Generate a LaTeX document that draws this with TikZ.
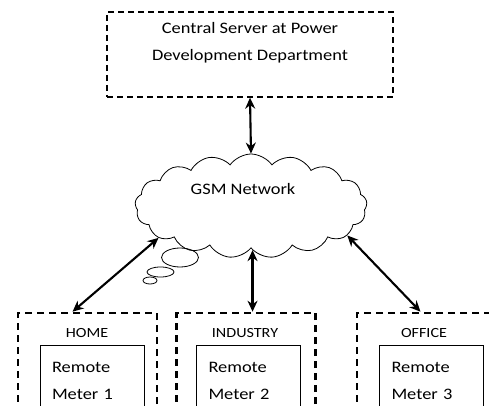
\documentclass[tikz,border=0pt]{standalone}
\usepackage{fontspec}
\setmainfont[FakeStretch=1.15]{Carlito}
\usetikzlibrary{arrows.meta}
\usetikzlibrary{shapes.symbols,shapes.geometric}
\tikzset{t/.style={font=\fontsize{16}{27}\selectfont}}
\tikzset{s/.style={font=\fontsize{14}{14}\selectfont}}
\tikzset{srv/.style={draw,line width=1.4pt,dash pattern=on 6pt off 4pt,minimum width=286,minimum height=85,align=center,inner sep=0pt}}
\tikzset{site/.style={draw,line width=2.6pt,dash pattern=on 7pt off 5pt,minimum width=139,minimum height=120,inner sep=0pt}}
\tikzset{meter/.style={draw,line width=0.9pt,minimum width=104,minimum height=70,align=left,inner xsep=11pt,anchor=north,text width=80pt}}
\tikzset{link/.style={line width=2.1pt,{Stealth[length=11pt,width=10pt]}-{Stealth[length=11pt,width=10pt]}}}
\tikzset{bub/.style={draw,ellipse,line width=0.8pt,inner sep=0pt}}

\begin{document}
\begin{tikzpicture}[x=1pt,y=-1pt]
        \useasboundingbox (0,0) rectangle (489,406);
        \clip (0,0) rectangle (489,406);
        % server and network
        \node[srv,t] (server) at (250,54.5) {Central Server at Power\\Development Department\\ };
        \node[cloud,draw,line width=0.8pt,cloud puffs=17,cloud puff arc=110,aspect=2.3,minimum width=232,minimum height=104] (gsm) at (251,206) {};
        \node[t] (gsmtext) at (243,189) {GSM Network};
        \node[bub,minimum width=37,minimum height=19] (b1) at (180,257.5) {};
        \node[bub,minimum width=27,minimum height=10] (b2) at (160.5,272) {};
        \node[bub,minimum width=14,minimum height=7] (b3) at (150,280.5) {};
        % sites
        \node[site] (home) at (87.5,373) {};
        \node[site] (ind) at (246,373) {};
        \node[site] (office) at (426.5,373) {};
        \node[s] (homel) at (87,333) {HOME};
        \node[s] (indl) at (245,333) {INDUSTRY};
        \node[s] (officel) at (424,333) {OFFICE};
        \node[meter,t] (m1) at (92,345) {Remote\\Meter 1};
        \node[meter,t] (m2) at (248.5,345) {Remote\\Meter 2};
        \node[meter,t] (m3) at (431.5,345) {Remote\\Meter 3};
        % links
        \draw[link] (server.south) -- (gsm.north);
        \draw[link] (gsm.199) -- ([xshift=-15pt]home.north);
        \draw[link] (gsm.272) -- (gsm.272 |- ind.north);
        \draw[link] (gsm.343) -- ([xshift=-6pt]office.north);
      \end{tikzpicture}
\end{document}
